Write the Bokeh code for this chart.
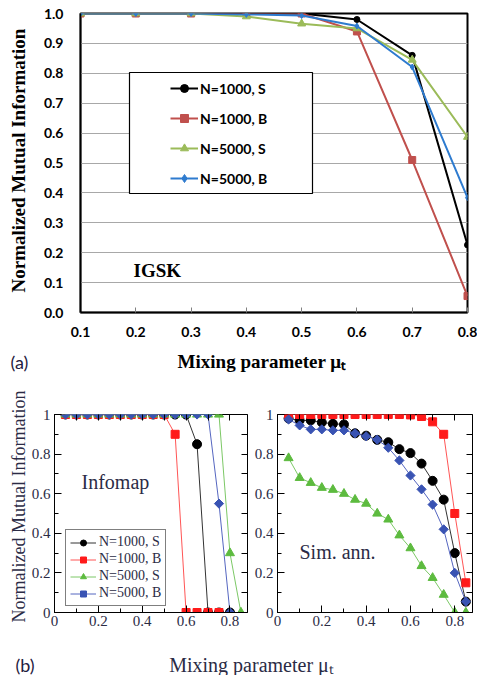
import numpy as np
from bokeh.plotting import figure
from bokeh.layouts import column, row
from bokeh.models import (Label, Legend, LegendItem, BoxAnnotation, LinearAxis,
                          FixedTicker, NumeralTickFormatter, Range1d)
from bokeh.embed import file_html
from bokeh.resources import INLINE

# ---------------- data: panel (a) IGSK ----------------
mu_a = [0.1, 0.2, 0.3, 0.4, 0.5, 0.6, 0.7, 0.8]
a_n1000_s = [1.0, 1.0, 1.0, 1.0, 1.0, 0.98, 0.86, 0.226]
a_n1000_b = [1.0, 1.0, 1.0, 1.0, 1.0, 0.94, 0.51, 0.055]
a_n5000_s = [1.0, 1.0, 1.0, 0.99, 0.966, 0.95, 0.845, 0.587]
a_n5000_b = [1.0, 1.0, 1.0, 0.997, 0.993, 0.958, 0.821, 0.384]
a_yticks = [0.0, 0.1, 0.2, 0.3, 0.4, 0.5, 0.6, 0.7, 0.8, 0.9, 1.0]
series_names = ["N=1000, S", "N=1000, B", "N=5000, S", "N=5000, B"]

# ---------------- data: panel (b) ----------------
mu_b = [0.05, 0.1, 0.15, 0.2, 0.25, 0.3, 0.35, 0.4, 0.45, 0.5,
        0.55, 0.6, 0.65, 0.7, 0.75, 0.8, 0.85]
info_n1000_s = [1, 1, 1, 1, 1, 1, 1, 1, 1, 1, 1, 1, 0.85, 0, 0, 0]
info_n1000_b = [1, 1, 1, 1, 1, 1, 1, 1, 1, 1, 0.9, 0, 0, 0, 0]
info_n5000_s = [1, 1, 1, 1, 1, 1, 1, 1, 1, 1, 1, 1, 1, 1, 1, 0.3, 0]
info_n5000_b = [1, 1, 1, 1, 1, 1, 1, 1, 1, 1, 1, 1, 1, 1, 0.55, 0]

sa_n1000_s = [0.98, 0.97, 0.97, 0.96, 0.953, 0.95, 0.905, 0.893, 0.872, 0.86,
              0.825, 0.805, 0.752, 0.665, 0.57, 0.30, 0.055]
sa_n1000_b = [1.0, 1.0, 1.0, 1.0, 1.0, 1.0, 1.0, 1.0, 1.0, 1.0,
              1.0, 0.998, 0.99, 0.963, 0.90, 0.50, 0.15]
sa_n5000_s = [0.78, 0.68, 0.655, 0.63, 0.62, 0.60, 0.57, 0.55, 0.50, 0.47,
              0.39, 0.325, 0.235, 0.175, 0.09, 0.0, 0.0]
sa_n5000_b = [0.975, 0.945, 0.925, 0.925, 0.92, 0.92, 0.905, 0.89, 0.873, 0.832,
              0.768, 0.692, 0.622, 0.545, 0.42, 0.20, 0.055]
b_xticks = [0, 0.2, 0.4, 0.6, 0.8]
b_xminor = [0.1, 0.3, 0.5, 0.7]
b_yticks = [0, 0.2, 0.4, 0.6, 0.8, 1.0]
b_yminor = [0.1, 0.3, 0.5, 0.7, 0.9]

# ---------------- styles ----------------
A_COLORS = ["#000000", "#C0504D", "#9BBB59", "#2E7BCF"]
A_MARKERS = ["circle", "square", "triangle", "diamond"]
A_SIZES = [6, 7, 8, 6]
B_COLORS = ["#000000", "#FF1A1A", "#5DBB3F", "#3953B3"]
B_LINES = ["#333333", "#FF5555", "#7CC866", "#5566C0"]
B_MARKERS = ["circle", "square", "triangle", "square"]
B_SIZES = [9, 8, 9, 6.5]
B_ANGLES = [0, 0, 0, np.pi / 4]
TXT = "#2b2b45"
SERIF = "Liberation Serif"


def strip(w, h):
    s = figure(width=w, height=h, x_range=Range1d(0, w), y_range=Range1d(0, h),
               output_backend="svg", toolbar_location=None, min_border=0,
               x_axis_type=None, y_axis_type=None, frame_align=False)
    s.grid.visible = False
    s.outline_line_color = None
    return s


# ================= panel (a) =================
fa = figure(width=447, height=345, x_range=Range1d(0.1, 0.8), y_range=Range1d(0, 1),
            output_backend="svg", toolbar_location=None, frame_align=False,
            min_border_left=50, min_border_right=10, min_border_top=13, min_border_bottom=33)
fa.outline_line_color = "black"
fa.outline_line_width = 2
fa.xgrid.visible = False
fa.ygrid.ticker = FixedTicker(ticks=a_yticks)
fa.ygrid.grid_line_color = "#a8a8a8"
fa.ygrid.grid_line_width = 1
fa.xaxis.ticker = FixedTicker(ticks=mu_a)
fa.yaxis.ticker = FixedTicker(ticks=a_yticks)
fa.axis.formatter = NumeralTickFormatter(format="0.0")
fa.axis.axis_line_color = "black"
fa.axis.axis_line_width = 1.5
fa.axis.minor_tick_line_color = None
fa.xaxis.major_tick_in = 5
fa.xaxis.major_tick_out = 0
fa.xaxis.major_tick_line_color = "#808080"
fa.yaxis.major_tick_in = 0
fa.yaxis.major_tick_out = 0
fa.axis.major_label_text_font = "Lato"
fa.axis.major_label_text_font_style = "bold"
fa.axis.major_label_text_font_size = "14px"
fa.axis.major_label_text_color = "black"
fa.xaxis.major_label_standoff = 14
fa.yaxis.major_label_standoff = 17

a_series = [a_n1000_s, a_n1000_b, a_n5000_s, a_n5000_b]
a_items = []
for name, ys, c, m, s in zip(series_names, a_series, A_COLORS, A_MARKERS, A_SIZES):
    ln = fa.line(mu_a, ys, line_color=c, line_width=2)
    sc = fa.scatter(mu_a, ys, marker=m, size=s, fill_color=c, line_color=c)
    a_items.append(LegendItem(label=name, renderers=[ln, sc]))

fa.add_layout(BoxAnnotation(left=49, right=232, bottom=119, top=240,
                            left_units="screen", right_units="screen",
                            bottom_units="screen", top_units="screen",
                            fill_color="white", fill_alpha=1,
                            line_color="black", line_width=1.2, line_alpha=1))
leg_a = Legend(items=a_items, location=(85, 119), padding=5, spacing=10,
               label_height=20, glyph_height=20, glyph_width=28, label_standoff=2,
               border_line_alpha=0, background_fill_alpha=0, margin=0,
               label_text_font="Lato", label_text_font_style="bold",
               label_text_font_size="14px", label_text_color="black")
fa.add_layout(leg_a)
fa.add_layout(Label(x=53, y=42, x_units="screen", y_units="screen", text="IGSK",
                    text_align="left", text_baseline="alphabetic", text_font=SERIF,
                    text_font_style="bold", text_font_size="19px", text_color="black"))

ya = strip(30, 345)
ya.add_layout(Label(x=18, y=185, text="Normalized Mutual Information", angle=np.pi / 2,
                    text_align="center", text_baseline="alphabetic",
                    text_font=SERIF, text_font_style="bold", text_font_size="19px",
                    text_color="black"))

xa = strip(477, 28)
xa.add_layout(Label(x=261, y=12, text="Mixing parameter μₜ", text_align="center",
                    text_baseline="alphabetic", text_font=SERIF,
                    text_font_style="bold", text_font_size="19px", text_color="black"))
xa.add_layout(Label(x=10, y=12, text="(a)", text_align="left", text_baseline="alphabetic",
                    text_font="Lato", text_font_size="18px", text_color="#1f2040"))


# ================= panel (b) =================
def style_b(p):
    p.outline_line_color = "black"
    p.outline_line_width = 1
    p.grid.visible = False
    p.xaxis.ticker = FixedTicker(ticks=b_xticks, minor_ticks=b_xminor)
    p.yaxis.ticker = FixedTicker(ticks=b_yticks, minor_ticks=b_yminor)
    p.axis.formatter = NumeralTickFormatter(format="0.[0]")
    p.axis.axis_line_color = "black"
    p.axis.major_tick_in = 7
    p.axis.major_tick_out = 0
    p.axis.minor_tick_in = 4
    p.axis.minor_tick_out = 0
    p.axis.major_tick_line_color = "black"
    p.axis.minor_tick_line_color = "black"
    p.axis.major_label_text_font = SERIF
    p.axis.major_label_text_font_size = "15px"
    p.axis.major_label_text_color = TXT
    p.xaxis.major_label_standoff = 3
    p.yaxis.major_label_standoff = 4
    # mirrored ticks (no labels) on top and right
    top = LinearAxis(ticker=FixedTicker(ticks=[], minor_ticks=b_xticks + b_xminor),
                     axis_line_color=None, major_tick_line_color=None,
                     minor_tick_in=6, minor_tick_out=0, minor_tick_line_color="black")
    right = LinearAxis(ticker=FixedTicker(ticks=[], minor_ticks=b_yticks + b_yminor),
                       axis_line_color=None, major_tick_line_color=None,
                       minor_tick_in=6, minor_tick_out=0, minor_tick_line_color="black")
    p.add_layout(top, "above")
    p.add_layout(right, "right")


fl = figure(width=222, height=263, x_range=Range1d(0, 0.88), y_range=Range1d(0, 1),
            output_backend="svg", toolbar_location=None, frame_align=False,
            min_border_left=24, min_border_right=3, min_border_top=41, min_border_bottom=24)
fr = figure(width=227, height=263, x_range=Range1d(0, 0.88), y_range=Range1d(0, 1),
            output_backend="svg", toolbar_location=None, frame_align=False,
            min_border_left=27, min_border_right=5, min_border_top=41, min_border_bottom=24)
style_b(fl)
style_b(fr)

info_series = [info_n1000_s, info_n1000_b, info_n5000_s, info_n5000_b]
sa_series = [sa_n1000_s, sa_n1000_b, sa_n5000_s, sa_n5000_b]
b_items = []
for i, name in enumerate(series_names):
    ys = info_series[i]
    xs = mu_b[:len(ys)]
    ln = fl.line(xs, ys, line_color=B_LINES[i], line_width=1)
    sc = fl.scatter(xs, ys, marker=B_MARKERS[i], size=B_SIZES[i], angle=B_ANGLES[i],
                    fill_color=B_COLORS[i], line_color=B_COLORS[i])
    b_items.append(LegendItem(label=name, renderers=[ln, sc]))
    ys2 = sa_series[i]
    fr.line(mu_b[:len(ys2)], ys2, line_color=B_LINES[i], line_width=1)
    fr.scatter(mu_b[:len(ys2)], ys2, marker=B_MARKERS[i], size=B_SIZES[i], angle=B_ANGLES[i],
               fill_color=B_COLORS[i], line_color=B_COLORS[i])

leg_b = Legend(items=b_items, location=(11, 6), padding=4, spacing=1,
               label_height=15, glyph_height=15, glyph_width=26, label_standoff=3,
               border_line_color="black", border_line_width=1,
               background_fill_color="white", background_fill_alpha=1, margin=0,
               label_text_font=SERIF, label_text_font_size="14px", label_text_color=TXT)
fl.add_layout(leg_b)

fl.add_layout(Label(x=27, y=131, x_units="screen", y_units="screen", text="Infomap",
                    text_font=SERIF, text_font_size="20px", text_color=TXT,
                    text_baseline="alphabetic"))
fr.add_layout(Label(x=22, y=61, x_units="screen", y_units="screen", text="Sim. ann.",
                    text_font=SERIF, text_font_size="20px", text_color=TXT,
                    text_baseline="alphabetic"))

yb = strip(28, 263)
yb.add_layout(Label(x=18, y=130, text="Normalized Mutual Information", angle=np.pi / 2,
                    text_align="center", text_baseline="alphabetic",
                    text_font=SERIF, text_font_size="18px", text_color=TXT))

xb = strip(477, 39)
xb.add_layout(Label(x=251, y=11, text="Mixing parameter μₜ", text_align="center",
                    text_baseline="alphabetic", text_font=SERIF, text_font_size="20px",
                    text_color=TXT))
xb.add_layout(Label(x=15, y=11, text="(b)", text_align="left", text_baseline="alphabetic",
                    text_font="Lato", text_font_size="18px", text_color="#1f2040"))

layout = column(row(ya, fa), xa, row(yb, fl, fr), xb)
open("out.html", "w").write(file_html(layout, INLINE))
